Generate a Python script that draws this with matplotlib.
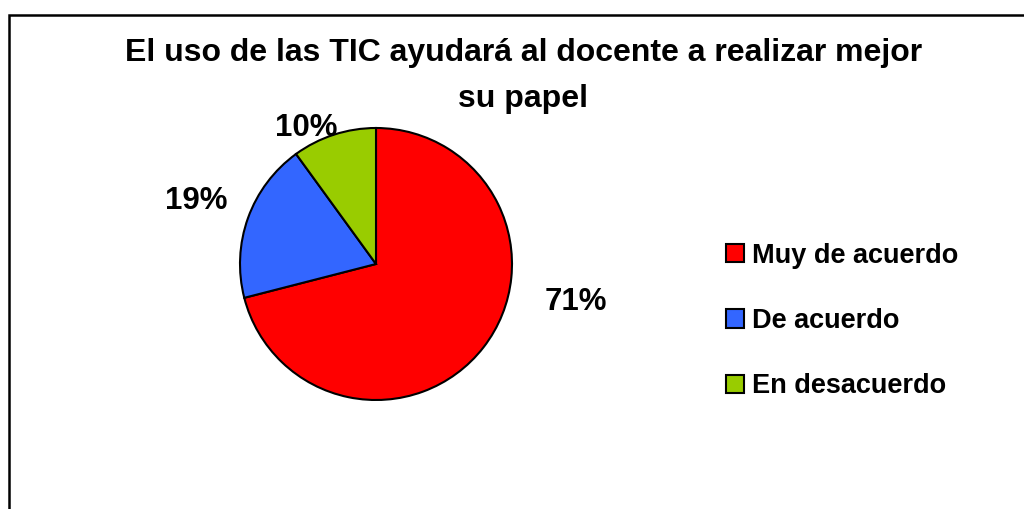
import matplotlib.pyplot as plt
from matplotlib.patches import Rectangle

plt.rcParams["font.family"] = ["Liberation Sans", "DejaVu Sans"]

categories = ["Muy de acuerdo", "De acuerdo", "En desacuerdo"]
values = [71, 19, 10]
labels = ["71%", "19%", "10%"]
colors = ["#FF0000", "#3366FF", "#99CC00"]
title_lines = ["El uso de las TIC ayudará al docente a realizar mejor", "su papel"]
# label anchor points in pie units (radius = 1)
label_pos = [(1.47, -0.28), (-1.32, 0.46), (-0.51, 1.0)]

W, H = 1024, 509
fig = plt.figure(figsize=(W / 100, H / 100), dpi=100)

# chart area frame (only top and left edges are visible)
fig.patches.append(Rectangle((8.5 / W, -0.1), 1.2, (H - 15) / H + 0.1,
                             transform=fig.transFigure, fill=False,
                             edgecolor="black", linewidth=1.8))

cx, cy, r = 376, 264, 136
ax = fig.add_axes([(cx - r) / W, (H - cy - r) / H, 2 * r / W, 2 * r / H])
wedges, _ = ax.pie(values, colors=colors, startangle=90, counterclock=False,
                   wedgeprops=dict(edgecolor="black", linewidth=1.5))
ax.set_xlim(-1, 1)
ax.set_ylim(-1, 1)
ax.set_aspect("equal")
ax.axis("off")

for txt, (x, y) in zip(labels, label_pos):
    ax.text(x, y, txt, ha="center", va="center", fontsize=22.5,
            fontweight="bold", clip_on=False)

# title drawn line by line
for i, line in enumerate(title_lines):
    fig.text(0.511, (H - 53 - 46 * i) / H, line, ha="center", va="center",
             fontsize=23, fontweight="bold")

leg = fig.legend(wedges, categories, loc="center left",
                 bbox_to_anchor=(702 / W, (H - 321) / H),
                 frameon=False, prop=dict(size=19.5, weight="bold"),
                 handlelength=0.65, handleheight=0.65, handletextpad=0.3,
                 labelspacing=1.45)
for h in leg.legend_handles:
    h.set_linewidth(1.5)

fig.savefig("out.png", dpi=100)
plt.close(fig)
